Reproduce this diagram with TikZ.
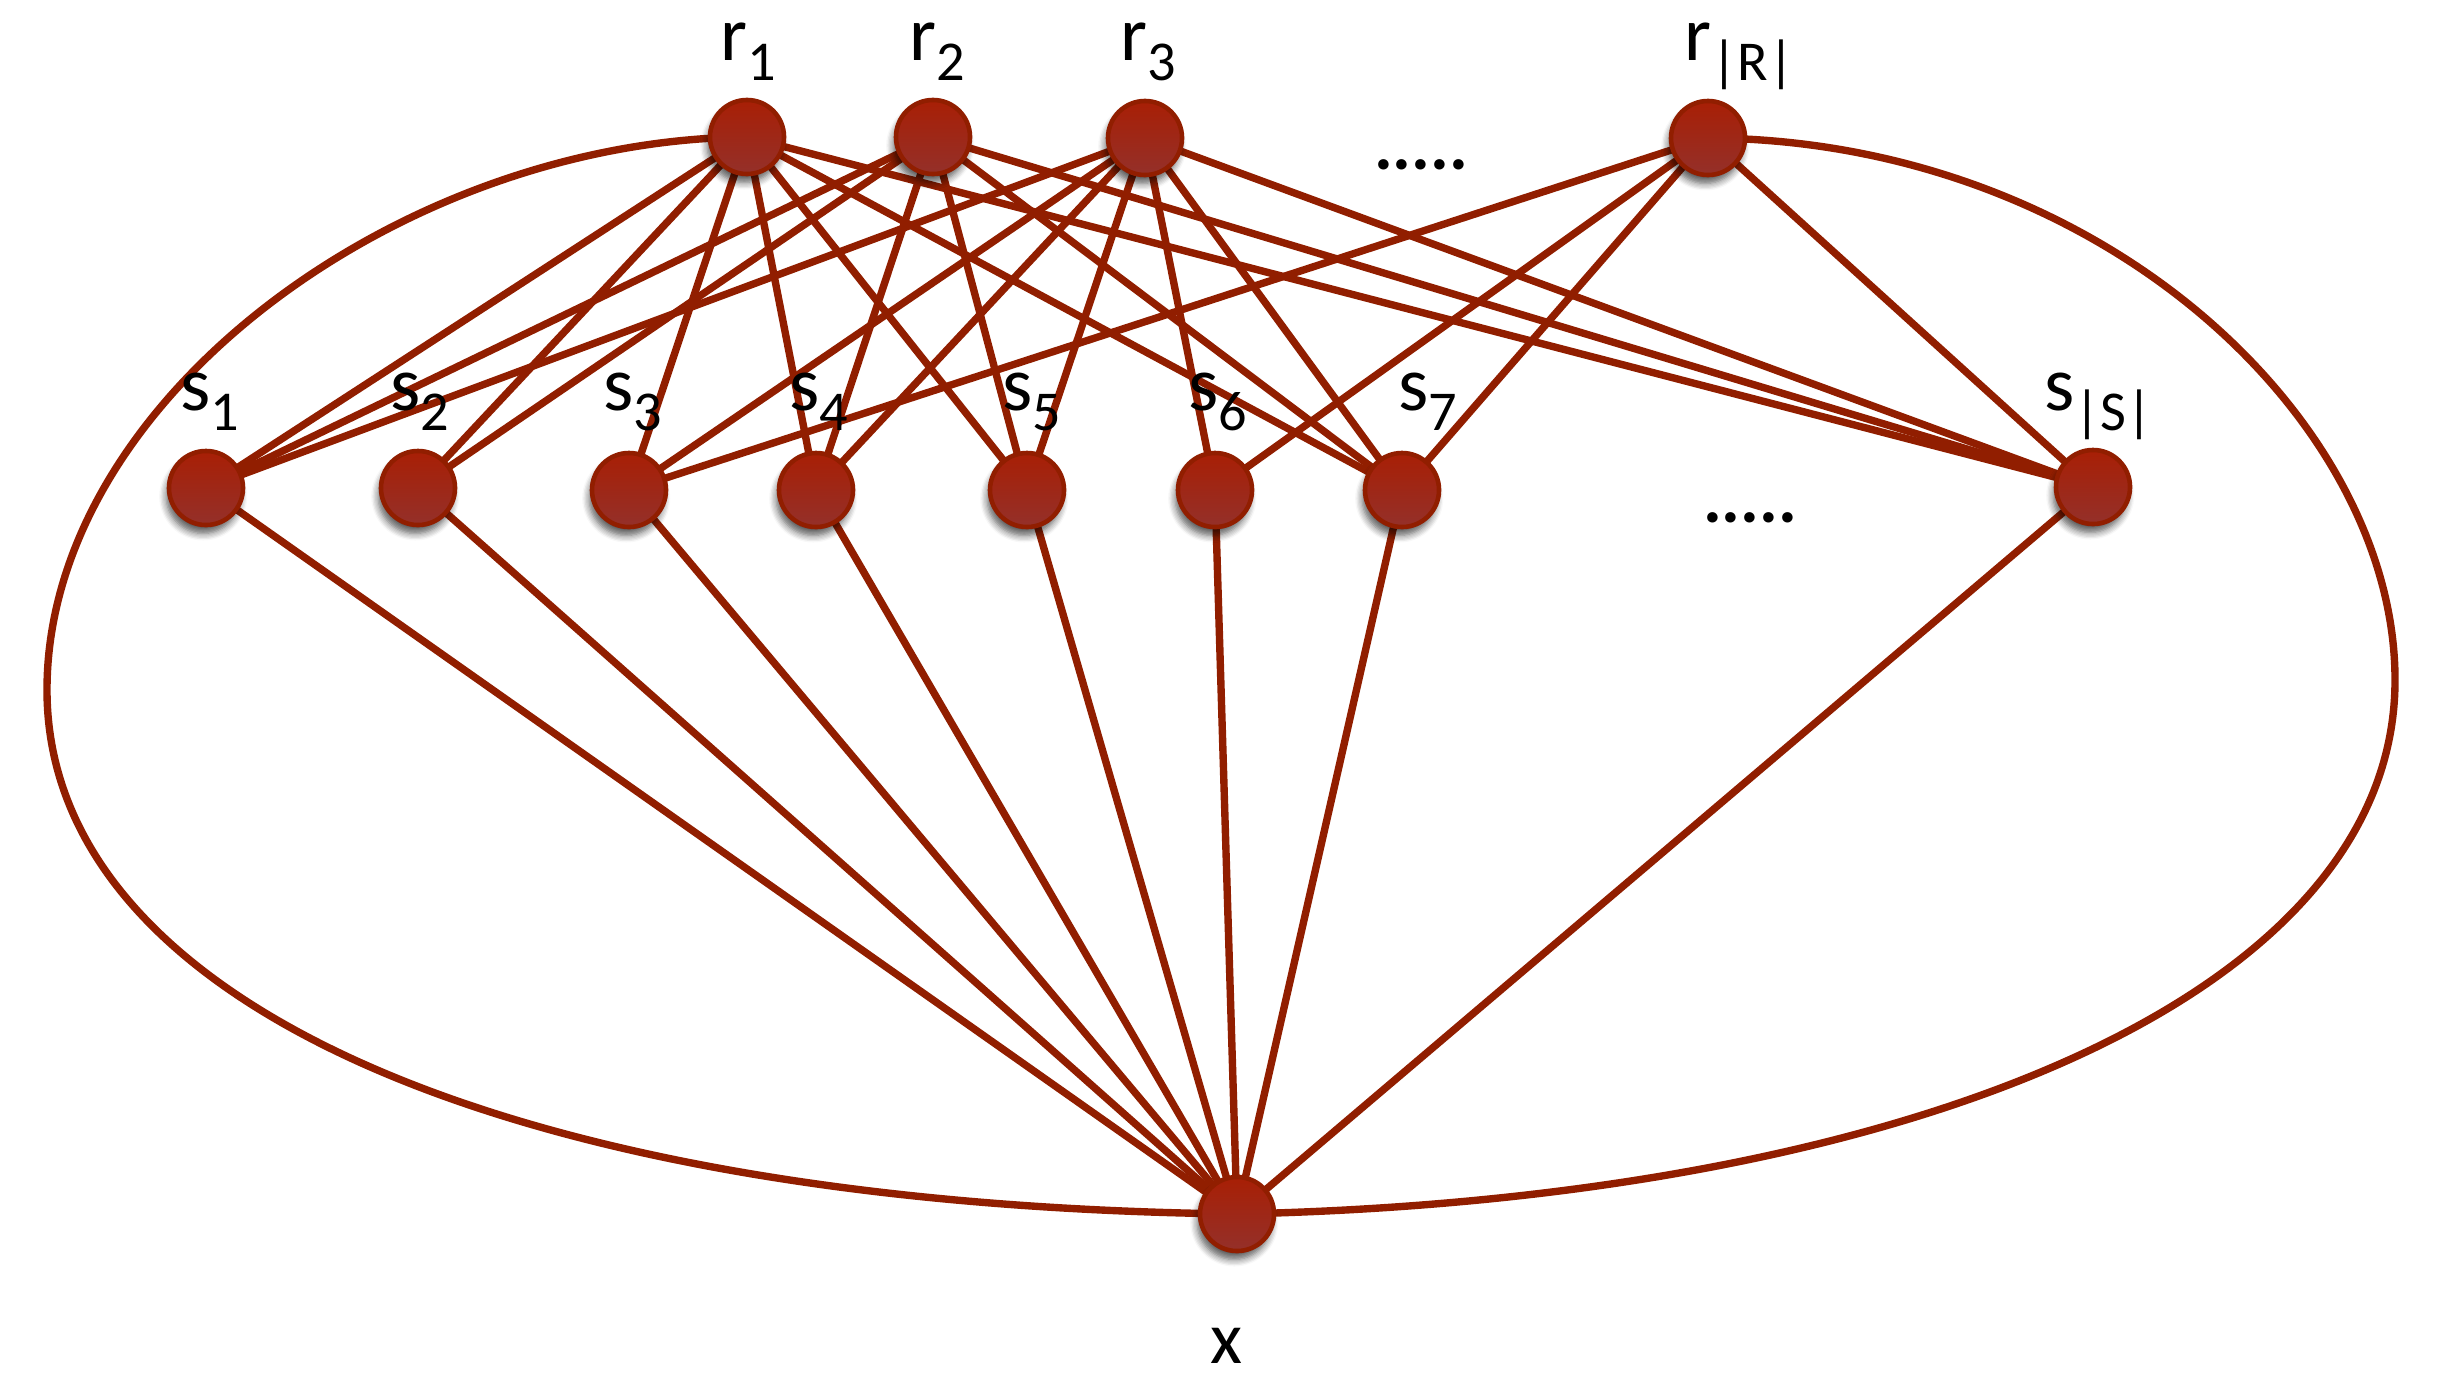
\documentclass[tikz,border=0pt]{standalone}
\usepackage{fontspec}
\setmainfont{Carlito}
\usetikzlibrary{shadows.blur}
\definecolor{edgered}{HTML}{911E00}
\definecolor{nodetop}{HTML}{A81F05}
\definecolor{nodebot}{HTML}{94302A}
\pgfdeclarelayer{bg}
\pgfsetlayers{bg,main}
\newcommand{\lsub}[1]{\raisebox{-5.7pt}{\fontsize{16}{16}\selectfont #1}}
\tikzset{
  vert/.style={circle, minimum size=0.74cm, inner sep=0pt, draw=edgered, line width=1.3pt,
    top color=nodetop, bottom color=nodebot,
    blur shadow={shadow xshift=-0.8pt, shadow yshift=-2.4pt, shadow blur steps=6, shadow opacity=65, shadow blur radius=2pt}},
  link/.style={draw=edgered, line width=2.1pt},
  lab/.style={anchor=base west, inner sep=0pt, font=\fontsize{22}{22}\selectfont},
  dotsx/.style={anchor=base, inner sep=0pt, font=\fontsize{20}{20}\selectfont\bfseries}
}
\begin{document}
\begin{tikzpicture}[x=0.01cm, y=-0.01cm]
\useasboundingbox (0,0) rectangle (2446,1378);
% vertices
\node[vert] (r1) at (747,137) {};
\node[vert] (r2) at (933,137) {};
\node[vert] (r3) at (1145,138) {};
\node[vert] (rR) at (1708,138) {};
\node[vert] (s1) at (206,488) {};
\node[vert] (s2) at (418,488) {};
\node[vert] (s3) at (629,490) {};
\node[vert] (s4) at (816,490) {};
\node[vert] (s5) at (1027,490) {};
\node[vert] (s6) at (1215,490) {};
\node[vert] (s7) at (1402,490) {};
\node[vert] (sS) at (2093,487) {};
\node[vert] (x) at (1237,1214) {};
% labels
\node[lab] (lr1) at (720,60) {r\lsub{1}};
\node[lab] (lr2) at (909,60) {r\lsub{2}};
\node[lab] (lr3) at (1120,60) {r\lsub{3}};
\node[lab] (lrR) at (1684,60) {r\lsub{|R|}};
\node[lab] (ls1) at (180,410) {s\lsub{1}};
\node[lab] (ls2) at (390,410) {s\lsub{2}};
\node[lab] (ls3) at (603,410) {s\lsub{3}};
\node[lab] (ls4) at (789,410) {s\lsub{4}};
\node[lab] (ls5) at (1002,410) {s\lsub{5}};
\node[lab] (ls6) at (1188,410) {s\lsub{6}};
\node[lab] (ls7) at (1398,410) {s\lsub{7}};
\node[lab] (lsS) at (2044,410) {s\lsub{|S|}};
\node[anchor=base, inner sep=0pt, font=\fontsize{21}{21}\selectfont] (lx) at (1226,1363) {x};
\node[dotsx] (d1) at (1421,169) {.....};
\node[dotsx] (d2) at (1750,522) {.....};
% edges
\begin{pgfonlayer}{bg}
\foreach \s in {s1,s2,s3,s4,s5,s7,sS} \draw[link] (r1.center) -- (\s.center);
\foreach \s in {s1,s2,s4,s5,s7,sS} \draw[link] (r2.center) -- (\s.center);
\foreach \s in {s1,s3,s4,s5,s6,s7,sS} \draw[link] (r3.center) -- (\s.center);
\foreach \s in {s3,s6,s7,sS} \draw[link] (rR.center) -- (\s.center);
\foreach \s in {s1,s2,s3,s4,s5,s6,s7,sS} \draw[link] (\s.center) -- (x.center);
\coordinate (lm) at (47,690);
\coordinate (rm) at (2395,680);
\draw[link] (r1.center) .. controls (400,140) and (47,400) .. (lm)
  .. controls (47,1000) and (500,1205) .. (x.center);
\draw[link] (rR.center) .. controls (2100,140) and (2395,420) .. (rm)
  .. controls (2395,1000) and (1900,1200) .. (x.center);
\end{pgfonlayer}
\end{tikzpicture}
\end{document}
